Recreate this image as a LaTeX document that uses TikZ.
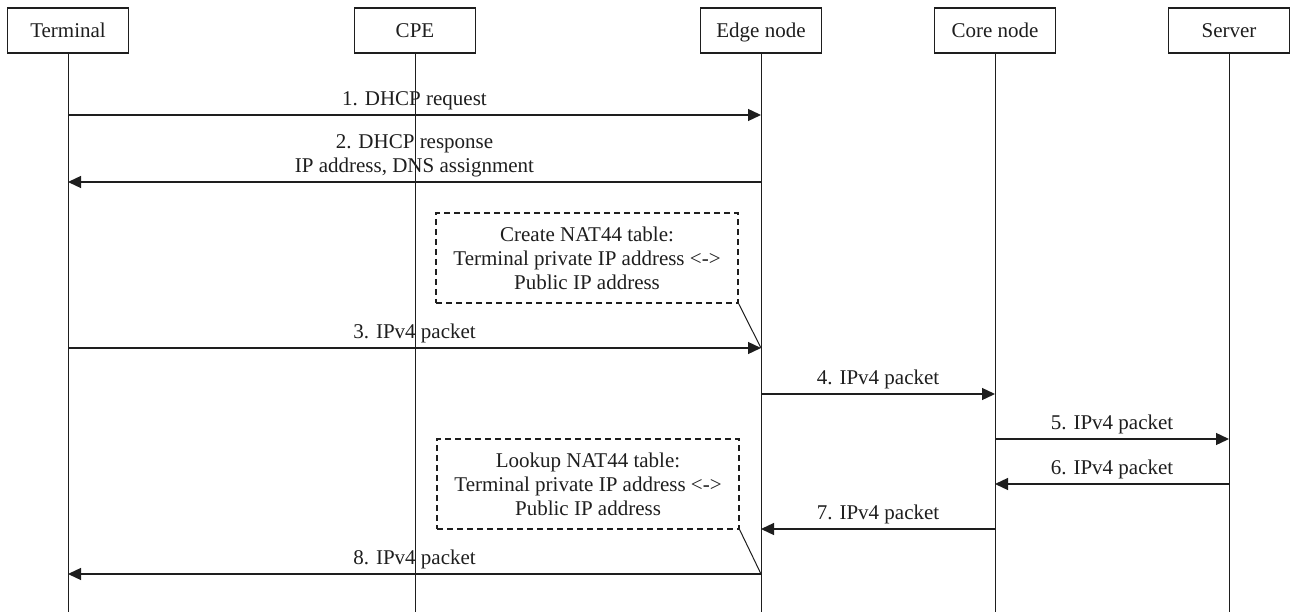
\documentclass[tikz,border=0pt]{standalone}
\usepackage{fontspec}
\setmainfont{Liberation Serif}
\usetikzlibrary{arrows.meta}
\definecolor{ink}{RGB}{30,30,30}
\begin{document}
\begin{tikzpicture}[x=1pt,y=-1pt,
  every node/.style={font=\fontsize{21}{24}\selectfont, text=ink},
  actor/.style={draw=ink, line width=1.2pt, minimum width=121pt, minimum height=45pt,
    inner sep=0pt, text height=17pt, text depth=2pt},
  lifeline/.style={draw=ink, line width=1pt},
  msg/.style={draw=ink, line width=1.3pt, -{Triangle[length=13pt,width=12pt]}},
  msglabel/.style={midway, anchor=south, yshift=9pt, align=center, inner sep=0pt, text depth=0pt},
  notebox/.style={draw=ink, line width=1.2pt, dash pattern=on 6pt off 4pt,
    minimum width=302pt, minimum height=90pt, align=center, inner sep=0pt},
  pointer/.style={draw=ink, line width=1pt}]
\useasboundingbox (0,0) rectangle (1298,612);

% participants
\node[actor] (term) at (68,30.5)   {Terminal};
\node[actor] (cpe)  at (415,30.5)  {CPE};
\node[actor] (edge) at (761,30.5)  {Edge node};
\node[actor] (core) at (995,30.5)  {Core node};
\node[actor] (srv)  at (1229,30.5) {Server};

% lifelines
\foreach \p in {term,cpe,edge,core,srv}
  \draw[lifeline] (\p.south) -- (\p.south |- 0,612);

% message rows
\coordinate (m1) at (0,115);
\coordinate (m2) at (0,182);
\coordinate (m3) at (0,348);
\coordinate (m4) at (0,394);
\coordinate (m5) at (0,439);
\coordinate (m6) at (0,484);
\coordinate (m7) at (0,529);
\coordinate (m8) at (0,574);

% NAT44 notes at the edge node
\node[notebox] (note1) at (587,258) {Create NAT44 table:\\Terminal private IP address <->\\Public IP address};
\node[notebox] (note2) at (588,484) {Lookup NAT44 table:\\Terminal private IP address <->\\Public IP address};
\draw[pointer] (note1.south east) -- (edge |- m3);
\draw[pointer] (note2.south east) -- (edge |- m8);

% messages
\draw[msg] (term |- m1) -- (edge |- m1) node[msglabel] {1. DHCP request};
\draw[msg] (edge |- m2) -- (term |- m2) node[msglabel] {2. DHCP response\\IP address, DNS assignment};
\draw[msg] (term |- m3) -- (edge |- m3) node[msglabel] {3. IPv4 packet};
\draw[msg] (edge |- m4) -- (core |- m4) node[msglabel] {4. IPv4 packet};
\draw[msg] (core |- m5) -- (srv |- m5)  node[msglabel] {5. IPv4 packet};
\draw[msg] (srv |- m6)  -- (core |- m6) node[msglabel] {6. IPv4 packet};
\draw[msg] (core |- m7) -- (edge |- m7) node[msglabel] {7. IPv4 packet};
\draw[msg] (edge |- m8) -- (term |- m8) node[msglabel] {8. IPv4 packet};
\end{tikzpicture}
\end{document}
